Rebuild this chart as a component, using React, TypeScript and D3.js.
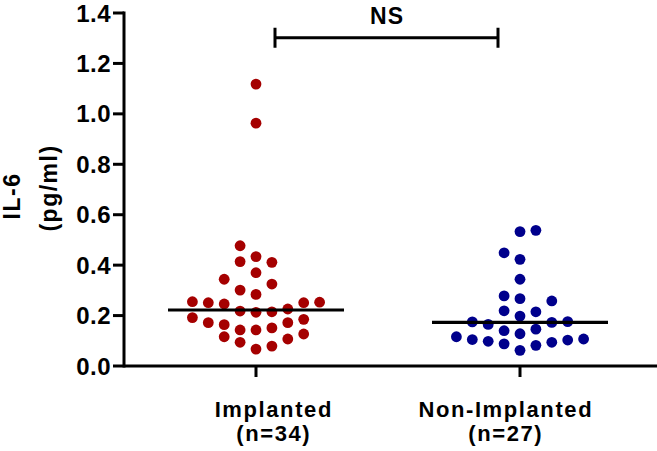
import React, { useEffect, useRef } from 'react';
import * as d3 from 'd3';

// IL-6 values (pg/ml)
const implanted = [
  0.067, 0.079, 0.094, 0.107, 0.116, 0.127, 0.143, 0.143, 0.151, 0.164,
  0.172, 0.172, 0.185, 0.192, 0.213, 0.215, 0.218, 0.226, 0.246, 0.251,
  0.251, 0.253, 0.255, 0.284, 0.301, 0.325, 0.344, 0.37, 0.411, 0.414,
  0.434, 0.477, 0.963, 1.118,
];
const nonImplanted = [
  0.062, 0.082, 0.088, 0.094, 0.098, 0.103, 0.105, 0.107, 0.116, 0.128,
  0.14, 0.146, 0.165, 0.173, 0.175, 0.176, 0.198, 0.215, 0.219, 0.258,
  0.267, 0.278, 0.344, 0.423, 0.449, 0.533, 0.538,
];
const groups = ['Implanted', 'Non-Implanted'];
const groupNotes = ['(n=34)', '(n=27)'];
const groupColors = ['#A50000', '#00008C'];
const yTicks = [0, 0.2, 0.4, 0.6, 0.8, 1.0, 1.2, 1.4];
const yTitle = ['IL-6', '(pg/ml)'];
const sigLabel = 'NS';

const W = 657;
const H = 451;
const FONT = "'Liberation Sans', Arial, sans-serif";

// GraphPad-like scatter: bin into rows, spread each row out from the centre
function swarm(values: number[], y: d3.ScaleLinear<number, number>, step: number, rowPx: number) {
  const sorted = values.slice().sort((a, b) => a - b);
  const out: { v: number; dx: number }[] = [];
  let rowStart: number | null = null;
  let row = -1;
  let k = 0;
  sorted.forEach((v) => {
    if (rowStart === null || y(rowStart) - y(v) > rowPx) {
      rowStart = v;
      row++;
      k = 0;
    }
    const sign = row % 2 === 0 ? 1 : -1;
    const slot = k === 0 ? 0 : k % 2 === 1 ? sign * Math.ceil(k / 2) : -sign * (k / 2);
    out.push({ v, dx: slot * step });
    k++;
  });
  return out;
}

const App = () => {
  const svgRef = useRef(null);

  useEffect(() => {
    if (!svgRef.current) return;
    const svg = d3.select(svgRef.current);
    svg.selectAll('*').remove();

    const left = 124;
    const bottom = 366;
    const top = 13;

    const y = d3.scaleLinear().domain([0, 1.4]).range([bottom, top]);
    const x = d3.scalePoint().domain(groups).range([left, 652]).padding(0.5);

    const g = svg.append('g');

    const bold = (sel, size, ls) =>
      sel
        .attr('font-family', FONT)
        .attr('font-weight', 'bold')
        .attr('font-size', size)
        .attr('letter-spacing', ls);

    // medians + dots
    [implanted, nonImplanted].forEach((vals, gi) => {
      const cx = x(groups[gi]) as number;
      const pts = swarm(vals, y, 15.9, 15.6);
      g.selectAll(`circle.g${gi}`)
        .data(pts)
        .enter()
        .append('circle')
        .attr('class', `g${gi}`)
        .attr('cx', (d) => cx + d.dx)
        .attr('cy', (d) => y(d.v))
        .attr('r', 5.4)
        .attr('fill', groupColors[gi]);

      const med = d3.median(vals) as number;
      g.append('line')
        .attr('x1', cx - 88)
        .attr('x2', cx + 88)
        .attr('y1', y(med))
        .attr('y2', y(med))
        .attr('stroke', '#000')
        .attr('stroke-width', 3.2);
    });

    // y axis
    g.append('line')
      .attr('x1', left)
      .attr('x2', left)
      .attr('y1', y(1.4) - 1.5)
      .attr('y2', bottom + 1.5)
      .attr('stroke', '#000')
      .attr('stroke-width', 3);
    const yt = g.selectAll('g.ytick').data(yTicks).enter().append('g').attr('class', 'ytick');
    yt.append('line')
      .attr('x1', left - 11)
      .attr('x2', left)
      .attr('y1', (d) => y(d))
      .attr('y2', (d) => y(d))
      .attr('stroke', '#000')
      .attr('stroke-width', 3);
    bold(
      yt.append('text')
        .attr('x', left - 13)
        .attr('y', (d) => y(d) + 8.6)
        .attr('text-anchor', 'end'),
      24,
      0.5
    ).text((d) => d3.format('.1f')(d));

    // x axis
    g.append('line')
      .attr('x1', left)
      .attr('x2', W)
      .attr('y1', bottom)
      .attr('y2', bottom)
      .attr('stroke', '#000')
      .attr('stroke-width', 3);
    groups.forEach((name, gi) => {
      const cx = x(name) as number;
      g.append('line')
        .attr('x1', cx)
        .attr('x2', cx)
        .attr('y1', bottom)
        .attr('y2', bottom + 11)
        .attr('stroke', '#000')
        .attr('stroke-width', 3);
      const lx = cx + (gi === 0 ? 17 : -15);
      [name, groupNotes[gi]].forEach((t, li) => {
        bold(
          g.append('text')
            .attr('x', lx + 0.8)
            .attr('y', 417 + li * 24)
            .attr('text-anchor', 'middle'),
          22,
          1.6
        ).text(t);
      });
    });

    // y title
    [196, 188].forEach((cy, i) => {
      const tx = i === 0 ? 19.5 : 57;
      bold(
        g.append('text')
          .attr('transform', `translate(${tx},${cy}) rotate(-90)`)
          .attr('text-anchor', 'middle'),
        23,
        1.5
      ).text(yTitle[i]);
    });

    // NS bracket
    const bx1 = (x(groups[0]) as number) + 19;
    const bx2 = (x(groups[1]) as number) - 22;
    const by = 37.7;
    g.append('path')
      .attr('d', `M${bx1},${by - 10}V${by + 10}M${bx1},${by}H${bx2}M${bx2},${by - 10}V${by + 10}`)
      .attr('fill', 'none')
      .attr('stroke', '#000')
      .attr('stroke-width', 3);
    bold(
      g.append('text')
        .attr('x', (bx1 + bx2) / 2 + 0.5)
        .attr('y', 24)
        .attr('text-anchor', 'middle'),
      23,
      1
    ).text(sigLabel);

    return () => {
      svg.selectAll('*').remove();
    };
  }, []);

  return (
    <svg
      ref={svgRef}
      width={W}
      height={H}
      style={{ position: 'absolute', left: 0, top: 0, background: '#fff' }}
    />
  );
};

export default App;
